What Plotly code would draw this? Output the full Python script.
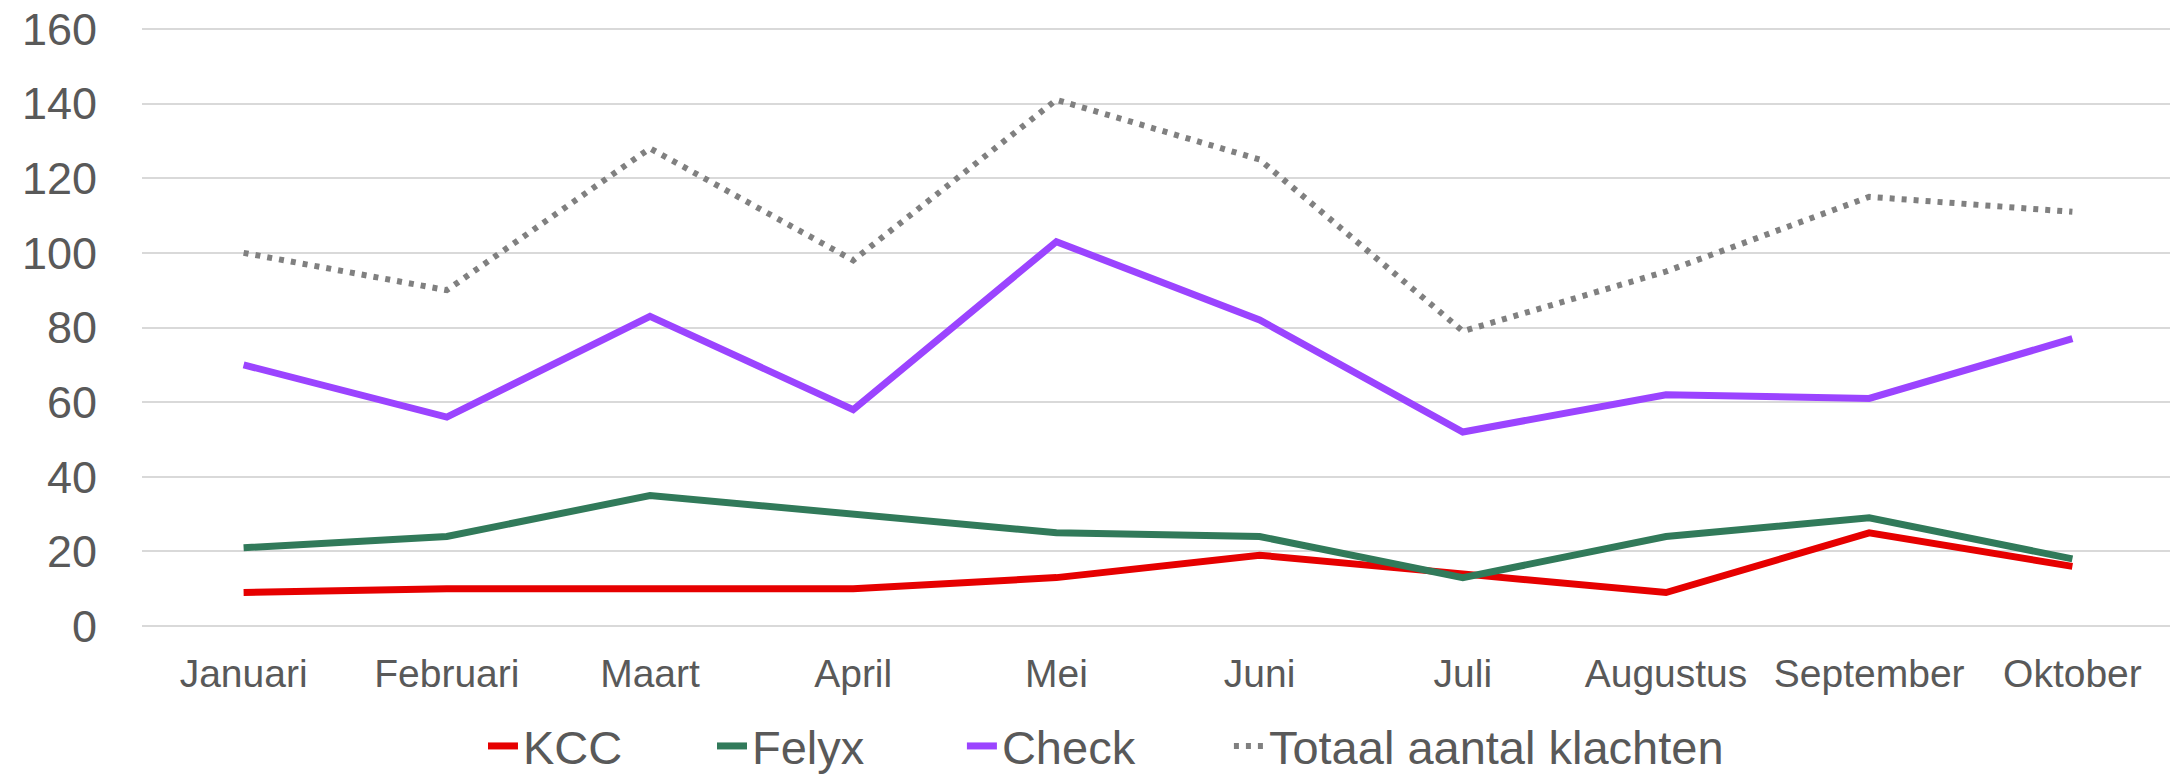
import plotly.graph_objects as go

months = ["Januari", "Februari", "Maart", "April", "Mei", "Juni", "Juli", "Augustus", "September", "Oktober"]
kcc = [9, 10, 10, 10, 13, 19, 14, 9, 25, 16]
felyx = [21, 24, 35, 30, 25, 24, 13, 24, 29, 18]
check = [70, 56, 83, 58, 103, 82, 52, 62, 61, 77]
totaal = [100, 90, 128, 98, 141, 125, 79, 95, 115, 111]
y_ticks = [0, 20, 40, 60, 80, 100, 120, 140, 160]

FONT = "Liberation Sans, Arial, sans-serif"
GREY = "#595959"

fig = go.Figure()
fig.add_trace(go.Scatter(x=months, y=kcc, name="KCC", mode="lines", legend="legend",
                         line=dict(color="#E60000", width=7)))
fig.add_trace(go.Scatter(x=months, y=felyx, name="Felyx", mode="lines", legend="legend2",
                         line=dict(color="#317A5A", width=7)))
fig.add_trace(go.Scatter(x=months, y=check, name="Check", mode="lines", legend="legend3",
                         line=dict(color="#9B44FF", width=7)))
fig.add_trace(go.Scatter(x=months, y=totaal, name="Totaal aantal klachten", mode="lines",
                         legend="legend4",
                         line=dict(color="#808080", width=6, dash="5px,7px")))

def leg(x):
    return dict(orientation="h", x=x, xanchor="left", y=-0.1970, yanchor="middle",
                font=dict(size=47, color=GREY, family=FONT), bgcolor="rgba(0,0,0,0)")

fig.update_layout(
    width=2170, height=767,
    paper_bgcolor="white", plot_bgcolor="white",
    margin=dict(l=134, r=4, t=19, b=147, autoexpand=False),
    font=dict(family=FONT, color=GREY),
    showlegend=True,
    legend=leg(0.1678), legend2=leg(0.2805), legend3=leg(0.4035), legend4=leg(0.5349),
)
fig.update_xaxes(type="category", range=[-0.5, 9.5], showgrid=False, zeroline=False, showline=False,
                 tickfont=dict(size=39, color=GREY, family=FONT), ticks="",
                 ticklabelstandoff=19, ticklabeloverflow="allow")
fig.update_yaxes(range=[-0.5, 160.5], tickvals=y_ticks, showgrid=True, gridcolor="#D9D9D9",
                 gridwidth=2, zeroline=False, showline=False,
                 tickfont=dict(size=45, color=GREY, family=FONT), ticks="",
                 ticklabelstandoff=44, ticklabeloverflow="allow")

fig.write_html("out.html")
